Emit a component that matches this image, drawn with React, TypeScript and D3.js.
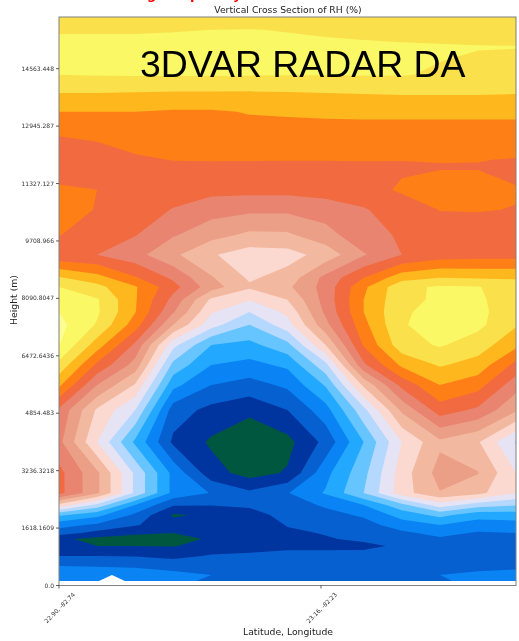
import React, { useMemo } from "react";
import * as d3 from "d3";

const WIDTH = 519;
const HEIGHT = 641;

const chartTitle = "Vertical Cross Section of RH (%)";
const overlayLabel = "3DVAR RADAR DA";
const yAxisTitle = "Height (m)";
const xAxisTitle = "Latitude, Longitude";
const yTickValues = [0, 1618.1609, 3236.3218, 4854.483, 6472.6436, 8090.8047, 9708.966, 11327.127, 12945.287, 14563.448];
const yTickLabels = ["0.0", "1618.1609", "3236.3218", "4854.483", "6472.6436", "8090.8047", "9708.966", "11327.127", "12945.287", "14563.448"];
const xTickValues = [0, 6.88];
const xTickLabels = ["22.90, -82.74", "23.16, -82.23"];

// Heights (m) of the data rows, top to bottom.
const rowHeights = [
  16020, 15660, 15180, 14755, 14390, 13880, 13350, 12700, 11995, 11800, 11150, 10585, 9880, 9320, 8670, 8415,
  8050, 7710, 7345, 6780, 6215, 5650, 4945, 4045, 3170, 2610, 2270, 1990, 1705, 1480, 1310, 1115, 830, 550, 295, 125,
];
const columnIndex = d3.range(13);

// Relative humidity, in contour-level units, one list per height row.
const r00 = [1.8, 1.8, 1.8, 1.8, 1.8, 1.7, 1.7, 1.7, 1.7, 1.7, 1.7, 1.7, 1.7];
const r01 = [1.1, 1.1, 1.1, 1.05, 1.0, 0.97, 1.05, 1.15, 1.3, 1.4, 1.45, 1.5, 1.5];
const r02 = [0.7, 0.7, 0.7, 0.7, 0.7, 0.7, 0.75, 0.8, 0.8, 0.85, 0.9, 0.95, 0.97];
const r03 = [0.6, 0.6, 0.6, 0.6, 0.6, 0.6, 0.6, 0.6, 0.6, 0.7, 1.0, 1.15, 1.2];
const r04 = [1.0, 0.95, 0.93, 0.92, 0.92, 0.95, 0.98, 0.97, 0.95, 0.95, 1.1, 1.3, 1.35];
const r05 = [2.0, 2.0, 2.05, 2.1, 2.1, 2.1, 2.05, 2.0, 1.95, 1.9, 1.9, 1.9, 1.95];
const r06 = [3.0, 3.0, 3.0, 3.1, 3.1, 2.95, 2.9, 2.85, 2.8, 2.8, 2.8, 2.8, 2.8];
const r07 = [3.97, 3.85, 3.5, 3.3, 3.3, 3.35, 3.35, 3.35, 3.4, 3.4, 3.4, 3.4, 3.4];
const r08 = [4.5, 4.4, 4.15, 3.97, 3.95, 3.96, 3.97, 3.97, 3.95, 3.98, 3.96, 3.97, 4.05];
const r09 = [4.5, 4.45, 4.35, 4.2, 4.2, 4.2, 4.2, 4.2, 4.2, 4.1, 4.05, 4.05, 4.2];
const r10 = [3.85, 4.0, 4.4, 4.55, 4.7, 4.7, 4.7, 4.6, 4.3, 3.9, 3.7, 3.7, 3.95];
const r11 = [3.6, 4.05, 4.5, 5.05, 5.6, 5.8, 5.8, 5.5, 5.1, 4.4, 3.98, 3.97, 4.02];
const r12 = [3.97, 4.4, 4.95, 5.9, 6.65, 7.2, 7.15, 6.4, 5.3, 4.9, 4.4, 4.3, 4.3];
const r13 = [4.8, 5.0, 5.65, 6.8, 7.9, 8.5, 8.4, 7.6, 6.1, 5.0, 4.5, 4.4, 4.4];
const r14 = [1.9, 2.6, 3.9, 5.2, 6.9, 8.15, 7.6, 5.7, 4.0, 2.4, 2.0, 2.1, 2.1];
const r15 = [1.0, 1.7, 2.9, 4.65, 6.55, 7.85, 7.2, 5.6, 3.2, 1.3, 0.85, 0.95, 1.5];
const r16 = [0.5, 0.9, 2.9, 5.3, 8.2, 8.95, 8.0, 5.6, 3.0, 1.25, 0.85, 0.85, 1.5];
const r17 = [0.0, 0.85, 2.95, 5.9, 8.9, 10.0, 8.75, 5.8, 3.0, 1.1, 0.75, 0.75, 1.6];
const r18 = [-0.3, 1.1, 3.5, 7.0, 9.6, 11.0, 9.4, 6.3, 3.3, 1.05, 0.75, 0.75, 1.9];
const r19 = [-0.05, 2.5, 5.2, 9.7, 12.0, 12.3, 11.3, 8.0, 3.9, 1.4, 0.9, 1.5, 2.75];
const r20 = [1.3, 4.2, 6.4, 11.3, 13.0, 13.3, 12.8, 10.3, 5.2, 2.8, 1.9, 2.4, 4.3];
const r21 = [2.8, 6.0, 8.1, 12.7, 14.0, 14.4, 13.8, 11.9, 7.8, 4.7, 3.0, 3.6, 5.6];
const r22 = [5.2, 8.15, 10.0, 14.5, 15.3, 15.7, 15.0, 13.4, 10.3, 6.8, 4.5, 5.2, 6.85];
const r23 = [5.7, 9.0, 12.2, 15.2, 16.15, 17.0, 16.3, 14.7, 12.0, 9.0, 7.2, 7.9, 10.1];
const r24 = [4.7, 6.8, 10.2, 13.3, 15.6, 16.4, 15.9, 13.3, 11.3, 8.5, 6.6, 6.95, 9.0];
const r25 = [4.7, 6.8, 10.2, 13.3, 14.05, 14.8, 14.05, 12.9, 11.0, 8.45, 7.05, 7.7, 9.0];
const r26 = [8.3, 10.3, 13.0, 14.9, 14.95, 14.85, 14.5, 13.85, 13.0, 11.3, 9.5, 10.5, 10.9];
const r27 = [11.8, 12.7, 14.2, 16.1, 15.85, 15.35, 14.7, 14.35, 13.85, 12.6, 11.7, 12.6, 12.5];
const r28 = [13.6, 14.2, 14.9, 15.7, 15.7, 15.6, 14.95, 14.7, 14.4, 13.5, 13.0, 13.5, 13.4];
const r29 = [14.6, 15.3, 15.85, 16.0, 15.6, 15.6, 15.15, 14.95, 14.7, 14.2, 13.7, 14.1, 14.0];
const r30 = [15.8, 16.3, 16.4, 16.3, 15.9, 15.55, 15.2, 15.07, 14.85, 14.4, 14.15, 14.3, 14.2];
const r31 = [15.6, 16.0, 16.0, 16.05, 15.6, 15.3, 15.15, 15.15, 15.2, 14.85, 14.4, 14.4, 14.4];
const r32 = [15.0, 15.0, 15.05, 15.3, 14.9, 14.85, 14.8, 14.8, 14.7, 14.5, 14.4, 14.35, 14.3];
const r33 = [14.0, 14.05, 14.1, 14.25, 14.5, 14.6, 14.6, 14.6, 14.6, 14.4, 14.3, 14.2, 14.1];
const r34 = [13.5, 13.5, 13.6, 13.8, 14.0, 14.4, 14.5, 14.5, 14.5, 14.25, 14.0, 13.85, 13.85];
const r35 = [13.3, 13.4, 13.5, 13.7, 14.2, 14.2, 14.4, 14.4, 14.4, 14.2, 14.1, 13.8, 13.75];
const rhRows = [r00, r01, r02, r03, r04, r05, r06, r07, r08, r09, r10, r11, r12, r13, r14, r15, r16, r17, r18, r19, r20, r21, r22, r23, r24, r25, r26, r27, r28, r29, r30, r31, r32, r33, r34, r35];

const levels = d3.range(0, 17);
const bandColors = [
  "#fdfd96", "#faf864", "#fae04a", "#ffb71e", "#ff7f17", "#f26a40", "#e98470", "#ec9f87", "#f3b9a0",
  "#fbd8d0", "#e6e3f5", "#b5d8ff", "#66c4ff", "#22a8ff", "#0a84f5", "#0760d0", "#0035a0", "#00573f",
];

// Ground height along the section (column position, metres).
const terrainPosition = [0, 1.05, 1.39, 1.73, 12];
const terrainHeight = [125, 125, 296, 125, 125];

const PLOT = { left: 59, right: 516, top: 17, bottom: 585.5 };

export default function App() {
  const x = d3.scaleLinear().domain([0, 12]).range([PLOT.left, PLOT.right]);
  const y = d3.scaleLinear().domain([0, 16020]).range([PLOT.bottom, PLOT.top]);
  const rowToHeight = d3.scaleLinear().domain(d3.range(rowHeights.length)).range(rowHeights);

  const bands = useMemo(() => {
    const n = columnIndex.length;
    const m = rhRows.length;
    const values = rhRows.flat();
    const gen = d3.contours().size([n, m]).thresholds(levels);
    const path = d3.geoPath();
    const mapPoint = ([cx, cy]: number[]) => {
      const i = Math.max(0, Math.min(n - 1, cx - 0.5));
      const j = Math.max(0, Math.min(m - 1, cy - 0.5));
      return [x(i), y(rowToHeight(j))];
    };
    return gen(values).map((c: any) => ({
      level: c.value,
      d: path({
        type: "MultiPolygon",
        coordinates: c.coordinates.map((poly: number[][][]) => poly.map((ring) => ring.map(mapPoint))),
      } as any) as string,
    }));
  }, []);

  const terrain = d3
    .area<number>()
    .x((_, i) => x(terrainPosition[i]))
    .y0(PLOT.bottom)
    .y1((_, i) => y(terrainHeight[i]))(terrainPosition) as string;

  const font = "'DejaVu Sans', sans-serif";
  return (
    <svg
      width={WIDTH}
      height={HEIGHT}
      style={{ position: "fixed", left: 0, top: 0, background: "#fff", filter: "blur(0.35px)" }}
      shapeRendering="geometricPrecision"
    >
      <text x="147 190 233" y={-1} fontFamily={font} fontSize={13} fontWeight={700} fill="#ff0000">
        gpy
      </text>
      <text x={288} y={13} textAnchor="middle" fontFamily={font} fontSize={9.25} fill="#222">
        {chartTitle}
      </text>
      <rect x={PLOT.left} y={PLOT.top} width={PLOT.right - PLOT.left} height={PLOT.bottom - PLOT.top} fill={bandColors[0]} />
      {bands.map((b) => (
        <path key={b.level} d={b.d} fill={bandColors[b.level + 1]} fillRule="evenodd" />
      ))}
      <path d={terrain} fill="#fff" />
      <rect
        x={PLOT.left}
        y={PLOT.top}
        width={PLOT.right - PLOT.left}
        height={PLOT.bottom - PLOT.top}
        fill="none"
        stroke="#808080"
        strokeWidth={1}
      />
      {yTickValues.map((v, i) => (
        <g key={v} transform={`translate(${PLOT.left},${y(v)})`}>
          <line x1={-3} x2={0} stroke="#333" strokeWidth={0.8} />
          <text x={-5} dy="0.35em" textAnchor="end" fontFamily={font} fontSize={6} fill="#333">
            {yTickLabels[i]}
          </text>
        </g>
      ))}
      {xTickValues.map((v, i) => (
        <g key={v} transform={`translate(${x(v)},${PLOT.bottom})`}>
          <line y1={0} y2={3} stroke="#333" strokeWidth={0.8} />
          <text
            transform="translate(15,8) rotate(-45)"
            textAnchor="end"
            dy="0.35em"
            fontFamily={font}
            fontSize={6}
            fill="#333"
          >
            {xTickLabels[i]}
          </text>
        </g>
      ))}
      <text x={288} y={635} textAnchor="middle" fontFamily={font} fontSize={9.25} fill="#222">
        {xAxisTitle}
      </text>
      <text transform="translate(17,300) rotate(-90)" textAnchor="middle" fontFamily={font} fontSize={9.25} fill="#222">
        {yAxisTitle}
      </text>
      <text x={140} y={77} fontFamily="'Liberation Sans', Arial, sans-serif" fontSize={37.4} fill="#000">
        {overlayLabel}
      </text>
    </svg>
  );
}
